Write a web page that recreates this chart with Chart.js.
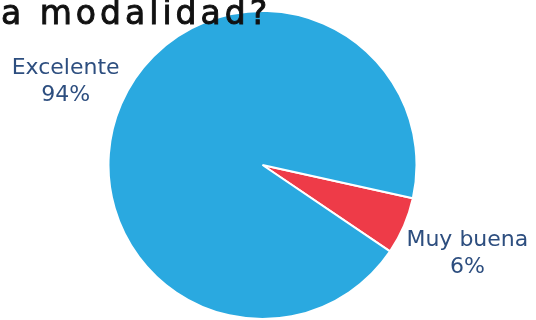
<!DOCTYPE html>
<html>
<head>
<meta charset="utf-8">
<script src="https://cdn.jsdelivr.net/npm/chart.js@4"></script>
<style>
  html, body { margin: 0; padding: 0; background: #fff; }
  #wrap { width: 536px; height: 320px; position: relative; }
</style>
</head>
<body>
<div id="wrap"><canvas id="myPie"></canvas></div>
<script>
var labels = ["Muy buena", "Excelente"];
var values = [6, 94];
var colors = ["#EE3B48", "#2AA9E0"];
var titleText = "a modalidad?";

// labels sit outside the pie, along each slice's middle angle
var outsideLabels = {
    id: "outsideLabels",
    afterDraw: function(chart){
        var ctx = chart.ctx;
        var meta = chart.getDatasetMeta(0);
        ctx.save();
        ctx.fillStyle = "#2D4E7F";
        ctx.font = "22px 'DejaVu Sans'";
        ctx.textAlign = "center";
        ctx.textBaseline = "alphabetic";
        meta.data.forEach(function(arc, i){
            var mid = (arc.startAngle + arc.endAngle) / 2;
            var r = arc.outerRadius * 1.42;
            var x = arc.x + Math.cos(mid) * r + 4;
            var y = arc.y + Math.sin(mid) * r;
            ctx.fillText(labels[i], x, y - 5);
            ctx.fillText(values[i] + "%", x, y + 22);
        });
        // title is cut off at the top-left like the original slide
        ctx.fillStyle = "#111";
        ctx.strokeStyle = "#111";
        ctx.lineWidth = 0.9;
        ctx.font = "33px 'DejaVu Sans'";
        ctx.letterSpacing = "4px";
        ctx.textAlign = "left";
        ctx.fillText(titleText, 1, 24);
        ctx.strokeText(titleText, 1, 24);
        ctx.restore();
    }
};

var PIE = document.getElementById("myPie");
let Pie_Chart = new Chart(PIE, {
    type: 'pie',
    data: {
        labels: labels,
        datasets: [{
            data: values,
            backgroundColor: colors,
            borderColor: "#ffffff",
            borderWidth: 2
        }]
    },
    options: {
        responsive: true,
        maintainAspectRatio: false,
        animation: false,
        rotation: 102.5,
        layout: { padding: { top: 10, bottom: -2, left: 0, right: 11 } },
        plugins: {
            legend: { display: false },
            tooltip: { enabled: false }
        }
    },
    plugins: [outsideLabels]
});
</script>
</body>
</html>
